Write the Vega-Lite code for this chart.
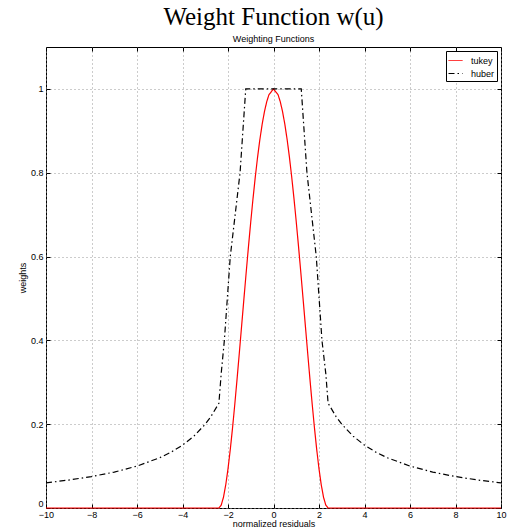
{
  "$schema": "https://vega.github.io/schema/vega-lite/v6.json",
  "autosize": {"type": "none"},
  "padding": {"left": 46, "top": 47, "right": 10, "bottom": 19},
  "width": 455,
  "height": 461,
  "background": "white",
  "title": {
    "text": "Weight Function w(u)",
    "subtitle": "Weighting Functions",
    "font": "Liberation Serif",
    "fontSize": 25,
    "fontWeight": "normal",
    "color": "black",
    "subtitleFont": "Liberation Sans",
    "subtitleFontSize": 9,
    "subtitleColor": "black",
    "anchor": "middle",
    "offset": 3,
    "subtitlePadding": 5
  },
  "config": {
    "view": {"stroke": "black", "strokeWidth": 1},
    "axis": {
      "labelFont": "Liberation Sans",
      "labelFontSize": 9,
      "labelColor": "black",
      "titleFont": "Liberation Sans",
      "titleFontSize": 9,
      "titleFontWeight": "normal",
      "titleColor": "black",
      "domain": false,
      "tickColor": "black",
      "tickSize": -4,
      "gridColor": "#999999",
      "gridDash": [1, 3],
      "gridWidth": 1
    },
    "legend": {
      "orient": "top-right",
      "offset": 4,
      "strokeColor": "black",
      "fillColor": "white",
      "padding": 2,
      "rowPadding": 0,
      "labelFont": "Liberation Sans",
      "labelFontSize": 9,
      "labelColor": "black",
      "symbolType": "stroke",
      "symbolSize": 196,
      "symbolStrokeWidth": 1,
      "labelOffset": 8
    }
  },
  "data": {
    "values": [
      {"u": -10, "w": 0, "f": "tukey"},
      {"u": -2.4, "w": 0, "f": "tukey"},
      {"u": -2.3, "w": 0.0067, "f": "tukey"},
      {"u": -2.2, "w": 0.0255, "f": "tukey"},
      {"u": -2.1, "w": 0.0549, "f": "tukey"},
      {"u": -2.0, "w": 0.0934, "f": "tukey"},
      {"u": -1.9, "w": 0.1393, "f": "tukey"},
      {"u": -1.8, "w": 0.1914, "f": "tukey"},
      {"u": -1.7, "w": 0.2483, "f": "tukey"},
      {"u": -1.6, "w": 0.3086, "f": "tukey"},
      {"u": -1.5, "w": 0.3713, "f": "tukey"},
      {"u": -1.4, "w": 0.4352, "f": "tukey"},
      {"u": -1.3, "w": 0.4993, "f": "tukey"},
      {"u": -1.2, "w": 0.5625, "f": "tukey"},
      {"u": -1.1, "w": 0.624, "f": "tukey"},
      {"u": -1.0, "w": 0.6829, "f": "tukey"},
      {"u": -0.9, "w": 0.7385, "f": "tukey"},
      {"u": -0.8, "w": 0.7901, "f": "tukey"},
      {"u": -0.7, "w": 0.8371, "f": "tukey"},
      {"u": -0.6, "w": 0.8789, "f": "tukey"},
      {"u": -0.5, "w": 0.9151, "f": "tukey"},
      {"u": -0.4, "w": 0.9452, "f": "tukey"},
      {"u": -0.3, "w": 0.969, "f": "tukey"},
      {"u": -0.2, "w": 0.9862, "f": "tukey"},
      {"u": -0.1, "w": 0.9931, "f": "tukey"},
      {"u": 0, "w": 1, "f": "tukey"},
      {"u": 0.1, "w": 0.9931, "f": "tukey"},
      {"u": 0.2, "w": 0.9862, "f": "tukey"},
      {"u": 0.3, "w": 0.969, "f": "tukey"},
      {"u": 0.4, "w": 0.9452, "f": "tukey"},
      {"u": 0.5, "w": 0.9151, "f": "tukey"},
      {"u": 0.6, "w": 0.8789, "f": "tukey"},
      {"u": 0.7, "w": 0.8371, "f": "tukey"},
      {"u": 0.8, "w": 0.7901, "f": "tukey"},
      {"u": 0.9, "w": 0.7385, "f": "tukey"},
      {"u": 1.0, "w": 0.6829, "f": "tukey"},
      {"u": 1.1, "w": 0.624, "f": "tukey"},
      {"u": 1.2, "w": 0.5625, "f": "tukey"},
      {"u": 1.3, "w": 0.4993, "f": "tukey"},
      {"u": 1.4, "w": 0.4352, "f": "tukey"},
      {"u": 1.5, "w": 0.3713, "f": "tukey"},
      {"u": 1.6, "w": 0.3086, "f": "tukey"},
      {"u": 1.7, "w": 0.2483, "f": "tukey"},
      {"u": 1.8, "w": 0.1914, "f": "tukey"},
      {"u": 1.9, "w": 0.1393, "f": "tukey"},
      {"u": 2.0, "w": 0.0934, "f": "tukey"},
      {"u": 2.1, "w": 0.0549, "f": "tukey"},
      {"u": 2.2, "w": 0.0255, "f": "tukey"},
      {"u": 2.3, "w": 0.0067, "f": "tukey"},
      {"u": 2.4, "w": 0, "f": "tukey"},
      {"u": 10, "w": 0, "f": "tukey"},
      {"u": -10, "w": 0.06, "f": "huber"},
      {"u": -9, "w": 0.0667, "f": "huber"},
      {"u": -8, "w": 0.075, "f": "huber"},
      {"u": -7, "w": 0.0857, "f": "huber"},
      {"u": -6, "w": 0.1, "f": "huber"},
      {"u": -5, "w": 0.12, "f": "huber"},
      {"u": -4.5, "w": 0.1333, "f": "huber"},
      {"u": -4, "w": 0.15, "f": "huber"},
      {"u": -3.5, "w": 0.1714, "f": "huber"},
      {"u": -3, "w": 0.2, "f": "huber"},
      {"u": -2.75, "w": 0.2182, "f": "huber"},
      {"u": -2.4, "w": 0.25, "f": "huber"},
      {"u": -2.3, "w": 0.32, "f": "huber"},
      {"u": -2.16, "w": 0.4, "f": "huber"},
      {"u": -1.9, "w": 0.6, "f": "huber"},
      {"u": -1.47, "w": 0.8, "f": "huber"},
      {"u": -1.22, "w": 1, "f": "huber"},
      {"u": 1.22, "w": 1, "f": "huber"},
      {"u": 1.47, "w": 0.8, "f": "huber"},
      {"u": 1.88, "w": 0.6, "f": "huber"},
      {"u": 2.13, "w": 0.4, "f": "huber"},
      {"u": 2.3, "w": 0.32, "f": "huber"},
      {"u": 2.4, "w": 0.25, "f": "huber"},
      {"u": 2.75, "w": 0.2182, "f": "huber"},
      {"u": 3, "w": 0.2, "f": "huber"},
      {"u": 3.5, "w": 0.1714, "f": "huber"},
      {"u": 4, "w": 0.15, "f": "huber"},
      {"u": 4.5, "w": 0.1333, "f": "huber"},
      {"u": 5, "w": 0.12, "f": "huber"},
      {"u": 6, "w": 0.1, "f": "huber"},
      {"u": 7, "w": 0.0857, "f": "huber"},
      {"u": 8, "w": 0.075, "f": "huber"},
      {"u": 9, "w": 0.0667, "f": "huber"},
      {"u": 10, "w": 0.06, "f": "huber"}
    ]
  },
  "layer": [
    {
      "transform": [{"filter": "datum.f === 'tukey'"}],
      "mark": {"type": "line", "strokeWidth": 1.2},
      "encoding": {
        "x": {
          "field": "u", "type": "quantitative",
          "scale": {"domain": [-10, 10], "nice": false, "zero": false},
          "axis": {"orient": "bottom", "title": "normalized residuals", "values": [-10, -8, -6, -4, -2, 0, 2, 4, 6, 8, 10], "labelPadding": 6, "titlePadding": 0, "grid": true, "labelFlush": false}
        },
        "y": {
          "field": "w", "type": "quantitative",
          "scale": {"domain": [0, 1.1], "nice": false},
          "axis": {"orient": "left", "title": "weights", "values": [0, 0.2, 0.4, 0.6, 0.8, 1], "format": ".1~f", "labelPadding": 7, "titlePadding": 3, "grid": true, "labelFlush": true}
        },
        "color": {
          "field": "f", "type": "nominal",
          "scale": {"domain": ["tukey", "huber"], "range": ["#ff0000", "#000000"]},
          "legend": {"title": null}
        },
        "strokeDash": {
          "field": "f", "type": "nominal",
          "scale": {"domain": ["tukey", "huber"], "range": [[1, 0], [6, 3, 1.5, 3]]},
          "legend": {"title": null}
        }
      }
    },
    {
      "transform": [{"filter": "datum.f === 'huber'"}],
      "mark": {"type": "line", "strokeWidth": 1.2},
      "encoding": {
        "x": {
          "field": "u", "type": "quantitative",
          "axis": {"orient": "top", "title": null, "labels": false, "grid": false, "values": [-10, -8, -6, -4, -2, 0, 2, 4, 6, 8, 10]}
        },
        "y": {
          "field": "w", "type": "quantitative",
          "axis": {"orient": "right", "title": null, "labels": false, "grid": false, "values": [0, 0.2, 0.4, 0.6, 0.8, 1]}
        },
        "color": {"field": "f", "type": "nominal"},
        "strokeDash": {"field": "f", "type": "nominal"}
      }
    }
  ]
}
